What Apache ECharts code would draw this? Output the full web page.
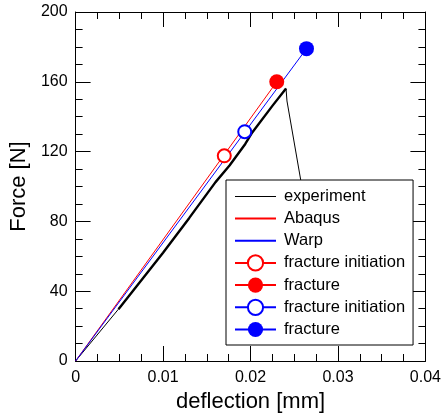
<!DOCTYPE html>
<html>
<head>
<meta charset="utf-8">
<script src="https://cdn.jsdelivr.net/npm/echarts@6/dist/echarts.min.js"></script>
<style>html,body{margin:0;padding:0;background:#fff}#c{width:444px;height:418px}</style>
</head>
<body>
<div id="c"></div>
<script>
// ---- data ----
var xTicks = [0, 0.01, 0.02, 0.03, 0.04];
var yTicks = [0, 40, 80, 120, 160, 200];
var experimentStart = [[0, 0], [0.0049, 29.7]];
var experimentMain = [[0.0049, 29.7], [0.0070, 43], [0.0100, 62], [0.0130, 82], [0.0160, 102.5], [0.0176, 112], [0.0194, 124.4], [0.0202, 131], [0.0225, 146.2], [0.02406, 156.2]];
var experimentDrop = [[0.02406, 156.2], [0.02417, 149], [0.0283, 30]];
var abaqus = [[0, 0], [0.0230, 160]];
var warp = [[0, 0], [0.0264, 179]];
var abaqusInitiation = [[0.0170, 117.6]];
var abaqusFracture = [[0.0230, 160]];
var warpInitiation = [[0.01934, 131.4]];
var warpFracture = [[0.0264, 179]];
var legendNames = ['experiment', 'Abaqus', 'Warp', 'fracture initiation', 'fracture', 'fracture initiation\u200b', 'fracture\u200b'];

var FONT = 'Liberation Sans, Arial, sans-serif';
var chart = echarts.init(document.getElementById('c'), null, {renderer: 'canvas'});

function fmtX(v) { return v === 0 ? '0' : v.toFixed(2); }
function baseAxis(extra) {
  var a = {
    type: 'value',
    splitLine: {show: false},
    axisLine: {show: true, onZero: false, lineStyle: {color: '#000', width: 1}},
    axisTick: {show: true, inside: true, length: 15, lineStyle: {color: '#000', width: 1}},
    minorTick: {show: true, splitNumber: 4, length: 7, lineStyle: {color: '#000', width: 1}},
    minorSplitLine: {show: false}
  };
  for (var k in extra) a[k] = extra[k];
  return a;
}

var legendData = legendNames.map(function (n, i) {
  if (i === 0) return {name: n, itemStyle: {opacity: 0}, lineStyle: {width: 1}};
  return i < 3 ? {name: n, itemStyle: {opacity: 0}} : {name: n};
});

var option = {
  animation: false,
  backgroundColor: '#fff',
  grid: {left: 75, right: 16, top: 12, bottom: 54, containLabel: false},
  xAxis: [
    baseAxis({
      position: 'bottom', min: xTicks[0], max: xTicks[xTicks.length - 1], interval: 0.01,
      axisLabel: {fontSize: 16, color: '#000', fontFamily: FONT, margin: 9, formatter: fmtX},
      name: 'deflection [mm]', nameLocation: 'middle', nameGap: 30,
      nameTextStyle: {fontSize: 22, color: '#000', fontFamily: FONT}
    }),
    baseAxis({
      position: 'top', min: xTicks[0], max: xTicks[xTicks.length - 1], interval: 0.01,
      axisLabel: {show: false}
    })
  ],
  yAxis: [
    baseAxis({
      position: 'left', min: yTicks[0], max: yTicks[yTicks.length - 1], interval: 40,
      axisLabel: {fontSize: 16, color: '#000', fontFamily: FONT, margin: 8},
      name: 'Force [N]', nameLocation: 'middle', nameGap: 35, nameRotate: 90,
      nameTextStyle: {fontSize: 22, color: '#000', fontFamily: FONT}
    }),
    baseAxis({
      position: 'right', min: yTicks[0], max: yTicks[yTicks.length - 1], interval: 40,
      axisLabel: {show: false}
    })
  ],
  legend: {
    orient: 'vertical', left: 226, top: 180, padding: [8, 8, 7, 8],
    itemGap: 5.1, itemWidth: 41, itemHeight: 19,
    backgroundColor: '#fff', borderColor: '#000', borderWidth: 1, borderRadius: 0,
    textStyle: {fontSize: 16.5, color: '#000', fontFamily: FONT, padding: [0, 0, 0, 3]},
    data: legendData, z: 10, selectedMode: false
  },
  series: [
    {name: legendNames[0], type: 'line', data: experimentStart, symbol: 'none', lineStyle: {color: '#000', width: 1}, itemStyle: {color: '#000'}, z: 2},
    {name: legendNames[0], type: 'line', data: experimentMain, symbol: 'none', lineStyle: {color: '#000', width: 2.4}, itemStyle: {color: '#000'}, z: 2},
    {name: legendNames[0], type: 'line', data: experimentDrop, symbol: 'none', lineStyle: {color: '#000', width: 1}, itemStyle: {color: '#000'}, z: 2},
    {name: legendNames[1], type: 'line', data: abaqus, symbol: 'none', lineStyle: {color: '#ff0000', width: 1}, itemStyle: {color: '#ff0000'}, z: 3},
    {name: legendNames[2], type: 'line', data: warp, symbol: 'none', lineStyle: {color: '#0000ff', width: 1}, itemStyle: {color: '#0000ff'}, z: 3},
    {name: legendNames[3], type: 'line', data: abaqusInitiation, symbol: 'circle', symbolSize: 13, showSymbol: true,
     lineStyle: {color: '#ff0000', width: 1}, itemStyle: {color: '#fff', borderColor: '#ff0000', borderWidth: 2}, z: 4},
    {name: legendNames[4], type: 'line', data: abaqusFracture, symbol: 'circle', symbolSize: 15, showSymbol: true,
     lineStyle: {color: '#ff0000', width: 1}, itemStyle: {color: '#ff0000', borderColor: '#ff0000', borderWidth: 0}, z: 4},
    {name: legendNames[5], type: 'line', data: warpInitiation, symbol: 'circle', symbolSize: 13, showSymbol: true,
     lineStyle: {color: '#0000ff', width: 1}, itemStyle: {color: '#fff', borderColor: '#0000ff', borderWidth: 2}, z: 4},
    {name: legendNames[6], type: 'line', data: warpFracture, symbol: 'circle', symbolSize: 15, showSymbol: true,
     lineStyle: {color: '#0000ff', width: 1}, itemStyle: {color: '#0000ff', borderColor: '#0000ff', borderWidth: 0}, z: 4}
  ]
};
chart.setOption(option);
</script>
</body>
</html>
